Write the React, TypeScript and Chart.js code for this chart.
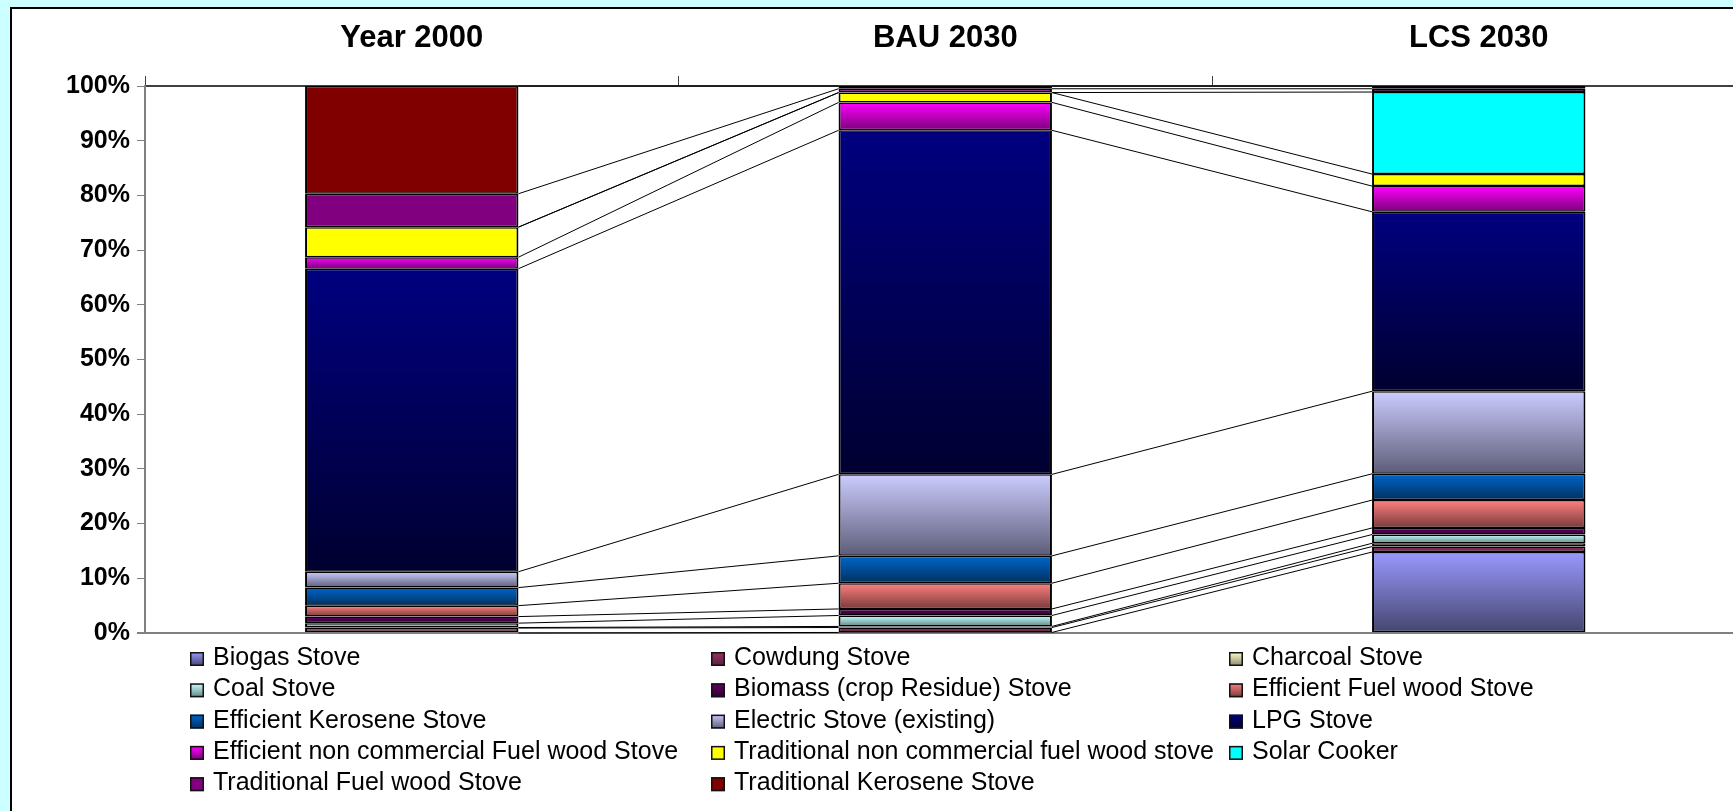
import React, { useEffect, useRef } from 'react';
import { Chart, registerables } from 'chart.js';

Chart.register(...registerables);

// ---- data (share of cooking stoves, %) ----
const categories = ['Year 2000', 'BAU 2030', 'LCS 2030'];

const biogasStove = [0.0, 0.1, 14.8];
const cowdungStove = [0.9, 0.9, 1.0];
const charcoalStove = [0.1, 0.2, 0.6];
const coalStove = [0.8, 2.0, 1.6];
const biomassStove = [1.2, 1.2, 1.2];
const efficientFuelWoodStove = [2.0, 4.7, 5.1];
const efficientKeroseneStove = [3.3, 5.0, 4.8];
const electricStove = [2.9, 14.9, 15.1];
const lpgStove = [55.4, 62.9, 32.8];
const efficientNonCommercialStove = [2.1, 5.1, 4.7];
const traditionalNonCommercialStove = [5.5, 1.8, 2.2];
const solarCooker = [0.0, 0.0, 15.0];
const traditionalFuelWoodStove = [6.1, 0.7, 0.6];
const traditionalKeroseneStove = [19.7, 0.5, 0.5];

const seriesLabels = [
  'Biogas Stove',
  'Cowdung Stove',
  'Charcoal Stove',
  'Coal Stove',
  'Biomass (crop Residue) Stove',
  'Efficient Fuel wood Stove',
  'Efficient Kerosene Stove',
  'Electric Stove (existing)',
  'LPG Stove',
  'Efficient non commercial Fuel wood Stove',
  'Traditional non commercial fuel wood stove',
  'Solar Cooker',
  'Traditional Fuel wood Stove',
  'Traditional Kerosene Stove',
];

const seriesValues = [
  biogasStove,
  cowdungStove,
  charcoalStove,
  coalStove,
  biomassStove,
  efficientFuelWoodStove,
  efficientKeroseneStove,
  electricStove,
  lpgStove,
  efficientNonCommercialStove,
  traditionalNonCommercialStove,
  solarCooker,
  traditionalFuelWoodStove,
  traditionalKeroseneStove,
];

const yTickValues = [0, 10, 20, 30, 40, 50, 60, 70, 80, 90, 100];

// ---- styles: vertical gradient fills (top colour -> bottom colour) ----
const seriesFills: [string, string][] = [
  ['#9999FF', '#45456F'],
  ['#993366', '#5A1F3C'],
  ['#FFFFCC', '#8A8A6E'],
  ['#CCFFFF', '#5F8686'],
  ['#660066', '#300030'],
  ['#FF8080', '#7A3A3A'],
  ['#0066CC', '#00305F'],
  ['#CCCCFF', '#5C5C78'],
  ['#000080', '#000030'],
  ['#FF00FF', '#7A007A'],
  ['#FFFF00', '#FFFF00'],
  ['#00FFFF', '#00FFFF'],
  ['#800080', '#800080'],
  ['#800000', '#800000'],
];

const FONT = '"Liberation Sans", Arial, Helvetica, sans-serif';

// 100% stacked shares
const totals = categories.map((_, i) => seriesValues.reduce((s, v) => s + v[i], 0));
const shares = seriesValues.map((vals) => vals.map((v, i) => (v / totals[i]) * 100));

// Excel-style series lines joining the top of each segment between neighbouring bars
const seriesLinesPlugin = {
  id: 'seriesLines',
  afterDatasetsDraw(chart: any) {
    const ctx = chart.ctx;
    ctx.save();
    ctx.strokeStyle = '#000';
    ctx.lineWidth = 1;
    chart.data.datasets.forEach((_: any, d: number) => {
      const meta = chart.getDatasetMeta(d);
      for (let i = 0; i < meta.data.length - 1; i++) {
        const a: any = meta.data[i];
        const b: any = meta.data[i + 1];
        ctx.beginPath();
        ctx.moveTo(a.x + a.width / 2, a.y);
        ctx.lineTo(b.x - b.width / 2, b.y);
        ctx.stroke();
      }
    });
    ctx.restore();
  },
};

// Three-column legend below the plot
const LEGEND_COLS = [190, 711, 1229];
const LEGEND_TOP = 652;
const LEGEND_ROW = 31.3;
const LEGEND_BOX = 14;

const gridLegendPlugin = {
  id: 'gridLegend',
  afterDraw(chart: any) {
    const ctx = chart.ctx;
    ctx.save();
    ctx.font = `25px ${FONT}`;
    ctx.textBaseline = 'alphabetic';
    ctx.textAlign = 'left';
    chart.data.datasets.forEach((ds: any, k: number) => {
      const col = k % 3;
      const row = Math.floor(k / 3);
      const bx = LEGEND_COLS[col];
      const by = LEGEND_TOP + row * LEGEND_ROW;
      const [top, bottom] = seriesFills[k];
      const g = ctx.createLinearGradient(0, by, 0, by + LEGEND_BOX);
      g.addColorStop(0, top);
      g.addColorStop(1, bottom);
      ctx.fillStyle = g;
      ctx.fillRect(bx, by, LEGEND_BOX, LEGEND_BOX);
      ctx.strokeStyle = '#111';
      ctx.lineWidth = 1.5;
      ctx.strokeRect(bx + 0.75, by + 0.75, LEGEND_BOX - 1.5, LEGEND_BOX - 1.5);
      ctx.fillStyle = '#000';
      ctx.fillText(ds.label, bx + 23, by + 13);
    });
    ctx.restore();
  },
};

function segmentFill(d: number) {
  return (c: any) => {
    const [top, bottom] = seriesFills[d];
    if (top === bottom) return top;
    const chart = c.chart;
    const y = chart && chart.scales ? chart.scales.y : null;
    const i = c.dataIndex;
    if (!y || i == null) return top;
    let below = 0;
    for (let k = 0; k < d; k++) below += shares[k][i];
    const y0 = y.getPixelForValue(below + shares[d][i]);
    const y1 = y.getPixelForValue(below);
    if (!isFinite(y0) || !isFinite(y1) || y1 - y0 < 0.5) return top;
    const g = chart.ctx.createLinearGradient(0, y0, 0, y1);
    g.addColorStop(0, top);
    g.addColorStop(1, bottom);
    return g;
  };
}

export default function App() {
  const canvasRef = useRef<HTMLCanvasElement | null>(null);

  useEffect(() => {
    if (!canvasRef.current) return;
    Chart.defaults.font.family = FONT;

    const chart = new Chart(canvasRef.current, {
      type: 'bar',
      data: {
        labels: categories,
        datasets: seriesLabels.map((label, d) => ({
          label,
          data: shares[d],
          backgroundColor: segmentFill(d),
          borderColor: '#000',
          borderWidth: { top: 1.5, bottom: 1.5, left: 2, right: 2 },
          borderSkipped: false,
          barPercentage: 0.4,
          categoryPercentage: 1.0,
        })),
      },
      options: {
        responsive: false,
        animation: false,
        events: [],
        layout: { padding: { left: 0, top: 0, right: 14.5, bottom: 178 } },
        plugins: {
          legend: { display: false },
          tooltip: { enabled: false },
          title: { display: false },
        },
        scales: {
          x: {
            type: 'category',
            position: 'top',
            stacked: true,
            offset: true,
            grid: {
              offset: true,
              drawOnChartArea: false,
              drawTicks: true,
              tickLength: 10,
              color: '#404040',
              lineWidth: 1,
            },
            border: { display: true, color: '#404040', width: 2 },
            ticks: {
              color: '#000',
              font: { family: FONT, size: 31, weight: 'bold' },
              padding: 19,
              maxRotation: 0,
              autoSkip: false,
            },
            afterFit: (s: any) => {
              s.height = 86;
            },
          },
          y: {
            type: 'linear',
            position: 'left',
            stacked: true,
            min: 0,
            max: 100,
            afterBuildTicks: (s: any) => {
              s.ticks = yTickValues.map((v) => ({ value: v }));
            },
            ticks: {
              color: '#000',
              font: { family: FONT, size: 25, weight: 'bold' },
              padding: 7,
              callback: (v: any) => `${v}%`,
            },
            grid: {
              drawOnChartArea: true,
              drawTicks: true,
              tickLength: 8,
              tickColor: '#808080',
              color: (c: any) => (c.tick && c.tick.value === 0 ? '#808080' : 'rgba(0,0,0,0)'),
              lineWidth: (c: any) => (c.tick && c.tick.value === 0 ? 2 : 1),
            },
            border: { display: true, color: '#808080', width: 2 },
            afterFit: (s: any) => {
              s.width = 145;
            },
          },
        },
      } as any,
      plugins: [seriesLinesPlugin, gridLegendPlugin],
    });

    return () => chart.destroy();
  }, []);

  return (
    <div style={{ position: 'fixed', inset: 0, background: '#CCFFFF', overflow: 'hidden' }}>
      <div
        style={{
          position: 'absolute',
          left: 10,
          top: 7,
          width: 1800,
          height: 900,
          background: '#FFFFFF',
          border: '2px solid #000',
        }}
      />
      <div style={{ position: 'absolute', left: 0, top: 0, width: 1760, height: 811 }}>
        <canvas ref={canvasRef} width={1760} height={811} style={{ display: 'block' }} />
      </div>
    </div>
  );
}
